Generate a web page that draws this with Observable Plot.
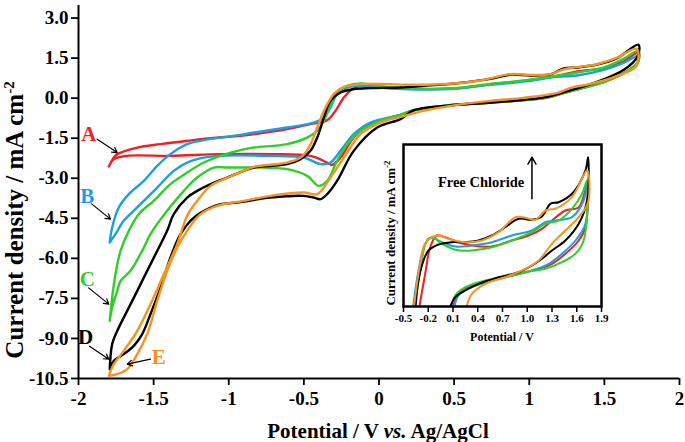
<!DOCTYPE html>
<html><head><meta charset="utf-8">
<script src="https://cdn.jsdelivr.net/npm/d3@7"></script>
<script src="https://cdn.jsdelivr.net/npm/@observablehq/plot@0.6"></script>
<style>
body{margin:0;background:#fff}
#wrap{position:relative;width:685px;height:442px;overflow:hidden}
#inset{position:absolute;left:373px;top:134px}
</style>
</head><body><div id="wrap"><div id="main"></div><div id="inset"></div></div>
<script>
// ---- axis ticks ----
const xTicks = [-2, -1.5, -1, -0.5, 0, 0.5, 1, 1.5, 2];
const yTicks = [3.0, 1.5, 0, -1.5, -3.0, -4.5, -6.0, -7.5, -9.0, -10.5];
const insetXTicks = [-0.5, -0.2, 0.1, 0.4, 0.7, 1.0, 1.3, 1.6, 1.9];

// ---- series names / colours ----
const seriesNames = ["A", "B", "C", "D", "E"];
const seriesColors = ["#ee1f26", "#1c9fe2", "#2fce2a", "#000000", "#f7921e"];

// ---- main CV loops: [potential V, current density mA cm-2] ----
const curveA = [[-1.798,-2.562],[-1.767,-2.236],[-1.742,-2.097],[-1.609,-1.850],[-1.454,-1.723],[-1.277,-1.599],[-1.121,-1.498],[-0.922,-1.412],[-0.833,-1.348],[-0.611,-1.161],[-0.456,-0.974],[-0.345,-0.824],[-0.290,-0.476],[-0.234,0.022],[-0.178,0.337],[-0.134,0.461],[0.077,0.375],[0.298,0.337],[0.52,0.375],[0.742,0.524],[0.964,0.648],[1.186,0.835],[1.319,1.0],[1.497,1.124],[1.62,1.36],[1.727,1.70],[1.72,1.32],[1.627,0.93],[1.494,0.60],[1.341,0.36],[1.228,0.19],[1.121,0.02],[0.895,-0.11],[0.676,-0.19],[0.456,-0.28],[0.230,-0.46],[0.143,-0.63],[-0.057,-0.974],[-0.168,-1.476],[-0.256,-2.225],[-0.312,-2.498],[-0.345,-2.412],[-0.456,-2.161],[-0.722,-2.097],[-1.055,-2.097],[-1.388,-2.161],[-1.676,-2.161],[-1.765,-2.285],[-1.798,-2.562]];
const curveB = [[-1.792,-5.408],[-1.776,-4.846],[-1.732,-4.097],[-1.665,-3.596],[-1.565,-3.097],[-1.476,-2.536],[-1.388,-2.097],[-1.277,-1.723],[-1.166,-1.573],[-1.055,-1.476],[-0.922,-1.375],[-0.833,-1.288],[-0.611,-1.101],[-0.434,-0.914],[-0.367,-0.727],[-0.323,-0.352],[-0.279,0.150],[-0.212,0.397],[-0.123,0.461],[0.077,0.36],[0.298,0.32],[0.52,0.36],[0.742,0.50],[0.964,0.62],[1.186,0.80],[1.319,0.85],[1.497,1.06],[1.62,1.30],[1.727,1.58],[1.72,1.30],[1.627,0.93],[1.494,0.60],[1.341,0.36],[1.228,0.20],[1.121,0.03],[0.895,-0.10],[0.676,-0.18],[0.456,-0.27],[0.230,-0.45],[0.143,-0.625],[-0.057,-0.914],[-0.168,-1.348],[-0.256,-1.974],[-0.323,-2.412],[-0.389,-2.472],[-0.500,-2.225],[-0.722,-2.161],[-1.055,-2.161],[-1.166,-2.225],[-1.277,-2.412],[-1.366,-2.723],[-1.476,-3.348],[-1.587,-3.970],[-1.699,-4.596],[-1.754,-5.094],[-1.792,-5.408]];
const curveC = [[-1.792,-8.341],[-1.776,-7.468],[-1.754,-6.592],[-1.720,-5.719],[-1.665,-4.970],[-1.599,-4.345],[-1.499,-3.846],[-1.388,-3.221],[-1.277,-2.787],[-1.166,-2.412],[-1.055,-2.161],[-0.922,-1.948],[-0.833,-1.850],[-0.611,-1.723],[-0.478,-1.476],[-0.411,-1.225],[-0.367,-0.850],[-0.323,-0.225],[-0.279,0.210],[-0.212,0.461],[-0.123,0.547],[0.077,0.40],[0.298,0.35],[0.52,0.38],[0.742,0.53],[0.964,0.66],[1.186,0.84],[1.319,0.96],[1.497,1.15],[1.62,1.45],[1.727,1.77],[1.72,1.33],[1.627,0.93],[1.494,0.60],[1.341,0.36],[1.228,0.20],[1.121,0.03],[0.895,-0.10],[0.676,-0.19],[0.456,-0.27],[0.230,-0.45],[0.143,-0.625],[0.010,-0.85],[-0.123,-1.225],[-0.212,-1.723],[-0.279,-2.348],[-0.345,-3.097],[-0.401,-3.285],[-0.478,-2.910],[-0.611,-2.659],[-0.833,-2.599],[-1.010,-2.599],[-1.099,-2.599],[-1.210,-2.974],[-1.299,-3.472],[-1.410,-4.221],[-1.521,-5.094],[-1.576,-5.719],[-1.654,-6.468],[-1.720,-6.843],[-1.742,-7.217],[-1.776,-7.843],[-1.792,-8.341]];
const curveD = [[-1.792,-10.15],[-1.776,-9.213],[-1.742,-8.715],[-1.676,-7.966],[-1.609,-7.217],[-1.543,-6.468],[-1.476,-5.719],[-1.410,-4.970],[-1.366,-4.345],[-1.277,-3.723],[-1.210,-3.472],[-1.121,-3.221],[-1.010,-2.974],[-0.900,-2.723],[-0.833,-2.599],[-0.611,-2.472],[-0.522,-2.285],[-0.456,-1.974],[-0.411,-1.476],[-0.367,-0.727],[-0.323,-0.101],[-0.256,0.210],[-0.168,0.337],[-0.057,0.375],[0.143,0.40],[0.298,0.46],[0.52,0.56],[0.742,0.72],[0.875,0.88],[1.008,0.85],[1.141,0.89],[1.23,1.11],[1.319,1.15],[1.452,1.26],[1.585,1.50],[1.727,2.0],[1.72,1.55],[1.627,1.05],[1.494,0.70],[1.341,0.40],[1.228,0.22],[1.121,0.05],[0.895,-0.10],[0.676,-0.19],[0.456,-0.28],[0.230,-0.46],[0.143,-0.787],[-0.012,-1.101],[-0.168,-1.974],[-0.279,-3.097],[-0.345,-3.596],[-0.389,-3.783],[-0.434,-3.723],[-0.500,-3.659],[-0.722,-3.723],[-0.944,-3.910],[-1.055,-3.970],[-1.121,-4.097],[-1.232,-4.472],[-1.321,-5.094],[-1.388,-5.970],[-1.454,-7.094],[-1.521,-8.090],[-1.576,-8.839],[-1.632,-9.277],[-1.699,-9.588],[-1.765,-9.839],[-1.792,-10.15]];
const curveE = [[-1.798,-10.40],[-1.765,-9.963],[-1.699,-9.464],[-1.609,-8.715],[-1.521,-7.715],[-1.432,-6.592],[-1.343,-5.468],[-1.277,-4.408],[-1.210,-3.846],[-1.121,-3.285],[-1.010,-2.985],[-0.900,-2.723],[-0.833,-2.573],[-0.611,-2.412],[-0.522,-2.225],[-0.467,-1.850],[-0.411,-1.101],[-0.367,-0.476],[-0.301,0.150],[-0.234,0.423],[-0.123,0.524],[0.010,0.53],[0.230,0.50],[0.456,0.53],[0.676,0.66],[0.875,0.90],[1.008,0.87],[1.141,0.90],[1.23,1.08],[1.319,1.16],[1.452,1.27],[1.585,1.52],[1.714,1.85],[1.714,1.21],[1.587,0.835],[1.408,0.536],[1.275,0.386],[1.188,0.199],[0.962,0.011],[0.742,-0.10],[0.522,-0.251],[0.296,-0.476],[0.143,-0.700],[0.010,-0.914],[-0.123,-1.348],[-0.234,-2.225],[-0.323,-2.974],[-0.411,-3.596],[-0.500,-3.536],[-0.722,-3.659],[-0.900,-3.846],[-1.077,-4.034],[-1.188,-4.345],[-1.277,-4.970],[-1.343,-5.596],[-1.410,-6.468],[-1.476,-7.592],[-1.543,-8.839],[-1.609,-9.588],[-1.676,-10.15],[-1.742,-10.34],[-1.798,-10.40]];

// ---- label annotations (letters with arrows) ----
const labelX = [-1.931, -1.942, -1.942, -1.953, -1.466];
const labelY = [-1.348, -3.659, -6.779, -8.966, -9.689];
const arrowX1 = [-1.876, -1.913, -1.933, -1.927, -1.521];
const arrowY1 = [-1.536, -3.959, -7.105, -9.288, -9.775];
const arrowX2 = [-1.742, -1.787, -1.798, -1.798, -1.676];
const arrowY2 = [-2.037, -4.532, -7.715, -9.775, -9.963];

// ---- inset loops (relative current, no scale shown) ----
const insetA = [[-0.318,-0.05],[-0.237,0.327],[-0.176,0.593],[-0.096,0.71],[0.006,0.693],[0.167,0.643],[0.329,0.61],[0.572,0.60],[0.814,0.66],[1.017,0.71],[1.178,0.777],[1.300,0.86],[1.462,0.96],[1.624,0.993],[1.725,1.21],[1.705,0.793],[1.624,0.66],[1.462,0.527],[1.300,0.427],[1.138,0.377],[0.977,0.343],[0.734,0.293],[0.492,0.243],[0.289,0.193],[0.167,0.127],[0.086,-0.05]];
const insetB = [[-0.391,-0.05],[-0.318,0.36],[-0.237,0.627],[-0.157,0.687],[-0.035,0.643],[0.127,0.60],[0.329,0.61],[0.572,0.643],[0.814,0.71],[1.057,0.76],[1.220,0.843],[1.341,0.86],[1.542,0.893],[1.684,1.06],[1.725,1.227],[1.705,0.827],[1.584,0.66],[1.421,0.527],[1.260,0.427],[1.057,0.36],[0.814,0.31],[0.572,0.26],[0.329,0.193],[0.167,0.11],[0.107,-0.05]];
const insetC = [[-0.379,-0.05],[-0.297,0.36],[-0.217,0.66],[-0.157,0.693],[-0.035,0.627],[0.127,0.567],[0.329,0.56],[0.572,0.593],[0.814,0.66],[1.057,0.743],[1.220,0.827],[1.381,0.86],[1.542,0.977],[1.664,1.127],[1.725,1.26],[1.684,0.66],[1.584,0.527],[1.421,0.443],[1.220,0.377],[0.977,0.343],[0.734,0.293],[0.492,0.26],[0.249,0.193],[0.127,0.11],[0.067,-0.05]];
const insetD = [[-0.358,-0.05],[-0.318,0.26],[-0.257,0.46],[-0.197,0.56],[-0.075,0.62],[0.086,0.643],[0.249,0.643],[0.410,0.66],[0.572,0.71],[0.734,0.793],[0.896,0.877],[1.057,0.867],[1.178,0.90],[1.280,1.027],[1.381,1.043],[1.542,1.127],[1.705,1.36],[1.737,1.493],[1.725,1.06],[1.624,0.827],[1.462,0.66],[1.300,0.56],[1.178,0.477],[1.057,0.41],[0.896,0.343],[0.653,0.293],[0.410,0.227],[0.249,0.16],[0.127,0.093],[0.046,-0.05]];
const insetE = [[-0.379,-0.05],[-0.318,0.327],[-0.237,0.627],[-0.157,0.693],[-0.075,0.71],[0.046,0.677],[0.249,0.643],[0.450,0.66],[0.653,0.743],[0.856,0.893],[0.977,0.887],[1.098,0.867],[1.220,0.96],[1.341,0.977],[1.542,1.093],[1.725,1.36],[1.737,1.043],[1.624,0.893],[1.462,0.76],[1.300,0.627],[1.138,0.46],[0.977,0.377],[0.734,0.293],[0.492,0.227],[0.329,0.127],[0.249,-0.05]];
const insetNoteX = [0.44], insetNoteY = [1.243];
const insetArrow = {x: 1.057, y1: 1.077, y2: 1.493};

const FONT = "'Liberation Serif', 'Times New Roman', serif";
const curves = [curveA, curveB, curveC, curveD, curveE];
const insets = [insetA, insetB, insetC, insetD, insetE];

const labels = seriesNames.map((n, i) => ({n, c: seriesColors[i], x: labelX[i], y: labelY[i],
  x1: arrowX1[i], y1: arrowY1[i], x2: arrowX2[i], y2: arrowY2[i]}));

const main = Plot.plot({
  width: 685, height: 442,
  marginLeft: 78, marginRight: 6, marginTop: 5, marginBottom: 64,
  style: {fontFamily: FONT, background: "transparent", color: "black"},
  x: {domain: [-2, 2]},
  y: {domain: [-10.5, 3.47]},
  marks: [
    Plot.axisX(xTicks, {tickSize: 7, tickPadding: 6, fontSize: 19, fontWeight: "bold", strokeWidth: 1.8, tickFormat: d => String(d), label: null}),
    Plot.axisY(yTicks, {tickSize: 7, tickPadding: 3, fontSize: 19, fontWeight: "bold", strokeWidth: 1.8, tickFormat: d => d.toFixed(1), label: null}),
    ...curves.map((c, i) => Plot.line(c, {x: d => d[0], y: d => d[1], stroke: seriesColors[i], strokeWidth: 2.4, curve: "catmull-rom"})),
    Plot.ruleX([-2], {strokeWidth: 2}),
    Plot.ruleY([-10.5], {strokeWidth: 2}),
    Plot.arrow(labels, {x1: "x1", y1: "y1", x2: "x2", y2: "y2", stroke: "black", strokeWidth: 1.2, headLength: 7}),
    Plot.text(labels, {x: "x", y: "y", text: "n", fill: "c", fontSize: 21, fontWeight: "bold", fontFamily: FONT})
  ]
});
document.getElementById("main").appendChild(main);

// axis titles with mixed styles
const ms = d3.select(main);
const xt = ms.append("text").attr("x", 378).attr("y", 438).attr("text-anchor", "middle")
  .attr("font-family", FONT).attr("font-weight", "bold").attr("font-size", 21).attr("fill", "black");
xt.append("tspan").text("Potential / V ");
xt.append("tspan").attr("font-style", "italic").text("vs.");
xt.append("tspan").text(" Ag/AgCl");
const yt = ms.append("text").attr("transform", "translate(23,220) rotate(-90)").attr("text-anchor", "middle")
  .attr("font-family", FONT).attr("font-weight", "bold").attr("font-size", 25).attr("fill", "black");
yt.append("tspan").text("Current density / mA cm");
yt.append("tspan").attr("dy", -9).attr("font-size", 15).text("-2");

const inset = Plot.plot({
  width: 238, height: 212,
  marginLeft: 30, marginRight: 10, marginTop: 10, marginBottom: 40,
  style: {fontFamily: FONT, background: "transparent", color: "black"},
  x: {domain: [-0.5, 1.9]},
  y: {domain: [0, 1.62]},
  marks: [
    ...insets.map((c, i) => Plot.line(c, {x: d => d[0], y: d => d[1], stroke: seriesColors[i], strokeWidth: 2, curve: "catmull-rom", clip: true})),
    Plot.frame({stroke: "black", strokeWidth: 2.5}),
    Plot.axisX(insetXTicks, {tickSize: 6, tickPadding: 2, fontSize: 11, fontWeight: "bold", strokeWidth: 1.5, tickFormat: d => d.toFixed(1), label: null}),
    Plot.axisY({ticks: [], label: null}),
    Plot.text(insetNoteX.map((x, i) => ({x, y: insetNoteY[i], t: "Free Chloride"})), {x: "x", y: "y", text: "t", fontSize: 14.5, fontWeight: "bold", fontFamily: FONT}),
    Plot.arrow([insetArrow], {x1: "x", x2: "x", y1: "y1", y2: "y2", stroke: "black", strokeWidth: 1.5, headLength: 8})
  ]
});
document.getElementById("inset").appendChild(inset);
const is = d3.select(inset);
is.append("text").attr("x", 129).attr("y", 207).attr("text-anchor", "middle")
  .attr("font-family", FONT).attr("font-weight", "bold").attr("font-size", 12).attr("fill", "black")
  .text("Potential / V");
const iy = is.append("text").attr("transform", "translate(22,99) rotate(-90)").attr("text-anchor", "middle")
  .attr("font-family", FONT).attr("font-weight", "bold").attr("font-size", 13).attr("fill", "black");
iy.append("tspan").text("Current density / mA cm");
iy.append("tspan").attr("dy", -5).attr("font-size", 9).text("-2");
</script></body></html>
